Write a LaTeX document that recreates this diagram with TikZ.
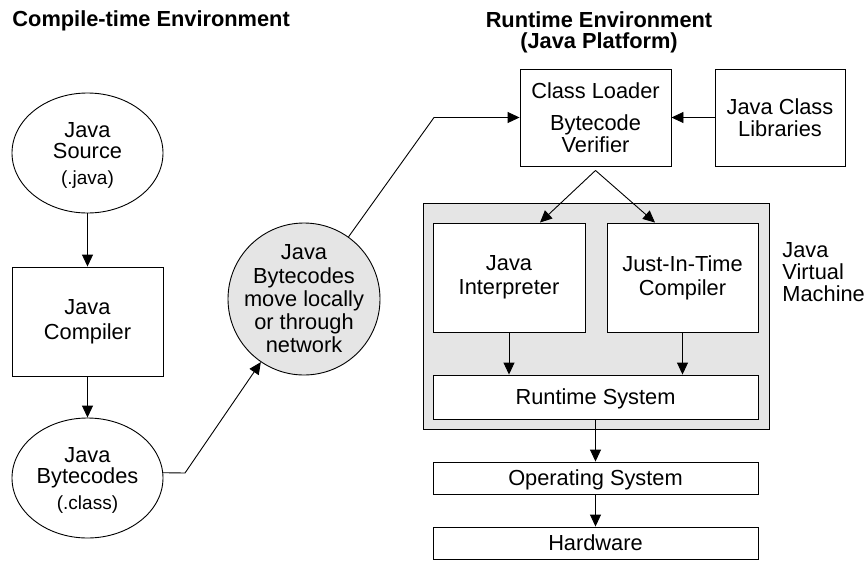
\documentclass[tikz,border=0pt]{standalone}
\usepackage{fontspec}
\setmainfont{Liberation Sans}
\usetikzlibrary{calc,shapes.geometric,arrows.meta}

\begin{document}
\begin{tikzpicture}[x=1pt, y=-1pt, >={Triangle[length=12pt,width=11pt]}, line width=0.9pt,
        every node/.style={font=\fontsize{21.8}{23}\selectfont},
        box/.style={draw, rectangle, fill=white, inner sep=0pt, align=center},
        oval/.style={draw, ellipse, fill=white, minimum width=151pt, minimum height=120pt, inner sep=0pt, align=center, text depth=-4pt},
        shaded/.style={draw, fill=gray!20, inner sep=0pt},
        heading/.style={font=\fontsize{21.8}{21}\selectfont\bfseries, inner sep=0pt}]
        % --- 1. Frame ---
        \useasboundingbox (0,0) rectangle (864,560);
        \def\small{\fontsize{19}{21}\selectfont}

        % --- 2. Headings ---
        \node[heading, anchor=base west] (ctitle) at (12,26) {Compile-time Environment};
        \node[heading, anchor=north, align=center] (rtitle) at (599,11.5) {Runtime Environment\\(Java Platform)};

        % --- 3. Compile-time side ---
        \node[oval, font=\fontsize{21.8}{21}\selectfont] (src) at (87.5,153) {Java\\Source\\[5pt]{\small(.java)}};
        \node[box, minimum width=151pt, minimum height=109pt, font=\fontsize{21.8}{25}\selectfont] (comp) at (87.5,321.5) {Java\\Compiler};
        \node[oval, font=\fontsize{21.8}{21}\selectfont] (bc) at (87.5,478) {Java\\Bytecodes\\[5pt]{\small(.class)}};

        % Network transfer
        \node[shaded, circle, minimum size=152pt,
              label={[align=center, font=\fontsize{21.8}{23.3}\selectfont]center:Java\\Bytecodes\\move locally\\or through\\network}] (net) at (304,299) {};
        \coordinate (bend1) at (185,473);
        \coordinate (bend2) at (434,117.5);

        % --- 4. Runtime side ---
        \node[box, minimum width=151pt, minimum height=97pt, font=\fontsize{21.8}{18}\selectfont, text depth=-3pt] (loader) at (595.5,117.5) {Class Loader\\[14pt]Bytecode\\Verifier};
        \node[box, minimum width=130pt, minimum height=97pt, font=\fontsize{21.8}{22}\selectfont] (libs) at (780,117.5) {Java Class\\Libraries};

        % Virtual machine
        \node[shaded, rectangle, minimum width=346pt, minimum height=226pt] (jvm) at (596,316) {};
        \node[anchor=west, align=left, inner sep=0pt, font=\fontsize{21.8}{22}\selectfont] (jvmlbl) at (782,272) {Java\\Virtual\\Machine};
        \node[box, minimum width=152pt, minimum height=109pt, font=\fontsize{21.8}{24}\selectfont] (interp) at (509,277.5) {Java\\Interpreter};
        \node[box, minimum width=151pt, minimum height=109pt, font=\fontsize{21.8}{24}\selectfont] (jit) at (682.5,277.5) {Just-In-Time\\Compiler};
        \node[box, minimum width=325pt, minimum height=44pt, text depth=-1pt] (rts) at (595.5,397) {Runtime System};

        % Below the machine
        \node[box, minimum width=325pt, minimum height=32pt, text depth=-1pt] (os) at (595.5,478) {Operating System};
        \node[box, minimum width=325pt, minimum height=32pt, text depth=-1pt] (hw) at (595.5,543) {Hardware};

        % --- 5. Connectors ---
        \draw[->] (src) -- (comp);
        \draw[->] (comp) -- (bc);
        \draw[->] (bc.4) -- (bend1) -- (net);
        \draw[->] (net) -- (bend2) -- (loader.west);
        \draw[->] (libs) -- (loader);

        \coordinate (split) at ($(loader.south)+(0,4)$);
        \draw[->] (split) -- ($(interp.north)+(31,0)$);
        \draw[->] (split) -- ($(jit.north)+(-27.5,0)$);

        \draw[->] (interp.south) -- (interp.south |- rts.north);
        \draw[->] (jit.south) -- (jit.south |- rts.north);
        \draw[->] (rts) -- (os);
        \draw[->] (os) -- (hw);
    \end{tikzpicture}
\end{document}
